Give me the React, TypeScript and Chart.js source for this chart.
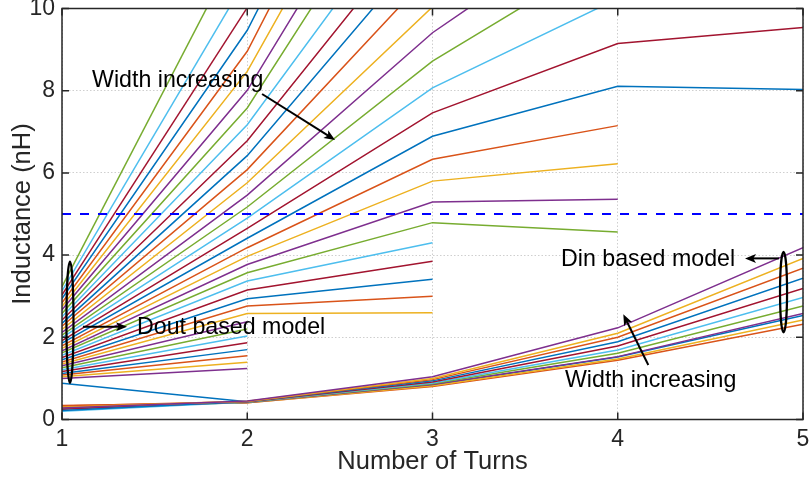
import React, { useEffect, useRef } from "react";
import { Chart, registerables } from "chart.js";

Chart.register(...registerables);

// ---------- data ----------
const turns = [1, 2, 3, 4, 5];
const xTicks = [1, 2, 3, 4, 5];
const yTicks = [0, 2, 4, 6, 8, 10];
const threshold = 5;

// Din based model: 11 widths (narrow -> wide), inductance (nH) at N = 1..5
const dinN1 = [0.88, 0.34, 0.31, 0.29, 0.27, 0.2, 0.25, 0.22, 0.33, 0.3, 0.28];
const dinN2 = [0.43, 0.405, 0.41, 0.415, 0.42, 0.425, 0.43, 0.435, 0.44, 0.445, 0.45];
const dinN3 = [0.84, 0.8, 0.82, 0.85, 0.87, 0.89, 0.91, 0.94, 0.97, 1.0, 1.04];
const dinN4 = [1.52, 1.44, 1.47, 1.53, 1.61, 1.69, 1.79, 1.89, 2.0, 2.1, 2.23];
const dinN5 = [2.53, 2.32, 2.42, 2.58, 2.76, 2.97, 3.19, 3.44, 3.68, 3.92, 4.18];

// Dout based model: 35 widths (narrow -> wide), inductance (nH) at N = 1..5
const doutN1 = [3.23, 3.13, 3.03, 2.94, 2.84, 2.75, 2.67, 2.58, 2.5, 2.42, 2.34, 2.27, 2.19, 2.12, 2.05, 1.99, 1.92, 1.86, 1.79, 1.73, 1.67, 1.62, 1.56, 1.51, 1.45, 1.4, 1.35, 1.31, 1.26, 1.21, 1.17, 1.12, 1.08, 1.04, 1.0];
const doutN2 = [11.91, 10.76, 10.02, 9.47, 8.96, 8.47, 8.01, 7.58, 7.17, 6.78, 6.42, 6.08, 5.76, 5.46, 5.17, 4.9, 4.65, 4.41, 4.18, 3.97, 3.77, 3.57, 3.37, 3.15, 2.94, 2.76, 2.58, 2.38, 2.2, 2.03, 1.87, 1.7, 1.55, 1.39, 1.24];
const doutN3 = [null, null, null, 18.3, 17.7, 16.5, 15.4, 14.6, 13.3, 12.4, 11.7, 10.9, 10.04, 9.41, 8.72, 8.07, 7.46, 6.89, 6.33, 5.8, 5.29, 4.79, 4.3, 3.85, 3.41, 3.0, 2.6, null, null, null, null, null, null, null, null];
const doutN4 = [null, null, null, null, null, null, null, null, null, null, null, null, null, 12.5, 11.44, 10.24, 9.15, 8.11, 7.15, 6.22, 5.36, 4.56, null, null, null, null, null, null, null, null, null, null, null, null, null];
const doutN5 = [null, null, null, null, null, null, null, null, null, null, null, null, null, null, null, null, 9.54, 8.03, null, null, null, null, null, null, null, null, null, null, null, null, null, null, null, null, null];

// ---------- annotations (data coordinates) ----------
const noteTexts = ["Width increasing", "Dout based model", "Din based model", "Width increasing"];
const noteAnchors = [
  [1.162, 8.08],
  [1.405, 2.08],
  [3.694, 3.74],
  [3.715, 0.8],
];
const arrows = [
  [2.08, 7.92, 2.474, 6.8],
  [1.113, 2.258, 1.351, 2.258],
  [4.87, 3.92, 4.687, 3.92],
  [4.165, 1.327, 4.03, 2.56],
];
const ellipses = [
  [1.043, 2.365, 0.019, 1.477],
  [4.895, 3.1, 0.019, 0.98],
];

// ---------- styles ----------
const FONT = '"Liberation Sans", Arial, Helvetica, sans-serif';
const palette = ["#0072BD", "#D95319", "#EDB120", "#7E2F8E", "#77AC30", "#4DBEEE", "#A2142F"];
const axisColor = "#262626";

function series(cols: (number | null)[][], i: number) {
  return turns
    .map((t, n) => ({ x: t, y: cols[n][i] }))
    .filter((p) => p.y !== null && p.y !== undefined);
}

function buildDatasets() {
  const ds: any[] = [];
  const dinCols = [dinN1, dinN2, dinN3, dinN4, dinN5];
  const doutCols = [doutN1, doutN2, doutN3, doutN4, doutN5];
  let s = 0;
  for (let i = 0; i < dinN1.length; i++, s++) {
    ds.push({
      data: series(dinCols, i),
      borderColor: palette[s % 7],
      borderWidth: 1.5,
      order: -s,
    });
  }
  for (let i = 0; i < doutN1.length; i++, s++) {
    ds.push({
      data: series(doutCols, i),
      borderColor: palette[s % 7],
      borderWidth: 1.5,
      order: -s,
    });
  }
  ds.push({
    data: [
      { x: turns[0], y: threshold },
      { x: turns[turns.length - 1], y: threshold },
    ],
    borderColor: "#0000FF",
    borderWidth: 2.2,
    borderDash: [9, 9],
    order: -1000,
  });
  return ds;
}

const overlay = {
  id: "overlay",
  afterDatasetsDraw(chart: any) {
    const { ctx, chartArea: a, scales } = chart;
    const x = scales.x;
    const y = scales.y;
    const px = (v: number) => x.getPixelForValue(v);
    const py = (v: number) => y.getPixelForValue(v);
    ctx.save();
    // box
    ctx.strokeStyle = axisColor;
    ctx.lineWidth = 1.5;
    ctx.setLineDash([]);
    ctx.strokeRect(a.left, a.top, a.right - a.left, a.bottom - a.top);
    // inward ticks
    const tl = 7;
    ctx.beginPath();
    xTicks.forEach((v) => {
      const p = px(v);
      ctx.moveTo(p, a.bottom);
      ctx.lineTo(p, a.bottom - tl);
      ctx.moveTo(p, a.top);
      ctx.lineTo(p, a.top + tl);
    });
    yTicks.forEach((v) => {
      const p = py(v);
      ctx.moveTo(a.left, p);
      ctx.lineTo(a.left + tl, p);
      ctx.moveTo(a.right, p);
      ctx.lineTo(a.right - tl, p);
    });
    ctx.stroke();

    // ellipses
    ctx.strokeStyle = "#000";
    ctx.lineWidth = 2.2;
    ellipses.forEach(([cx, cy, rx, ry]) => {
      const cxp = px(cx);
      const cyp = py(cy);
      const rxp = Math.abs(px(cx + rx) - cxp);
      const ryp = Math.abs(py(cy + ry) - cyp);
      ctx.beginPath();
      ctx.ellipse(cxp, cyp, rxp, ryp, 0, 0, Math.PI * 2);
      ctx.stroke();
    });

    // arrows
    ctx.fillStyle = "#000";
    ctx.lineWidth = 2;
    arrows.forEach(([x0, y0, x1, y1]) => {
      const ax = px(x0), ay = py(y0), bx = px(x1), by = py(y1);
      const dx = bx - ax, dy = by - ay;
      const len = Math.hypot(dx, dy);
      const ux = dx / len, uy = dy / len;
      const nx = -uy, ny = ux;
      const L = 11, W = 4.5;
      ctx.beginPath();
      ctx.moveTo(ax, ay);
      ctx.lineTo(bx - ux * L * 0.7, by - uy * L * 0.7);
      ctx.stroke();
      ctx.beginPath();
      ctx.moveTo(bx, by);
      ctx.lineTo(bx - ux * L + nx * W, by - uy * L + ny * W);
      ctx.lineTo(bx - ux * L * 0.75, by - uy * L * 0.75);
      ctx.lineTo(bx - ux * L - nx * W, by - uy * L - ny * W);
      ctx.closePath();
      ctx.fill();
    });

    // texts
    ctx.font = `23.2px ${FONT}`;
    ctx.textAlign = "left";
    ctx.textBaseline = "alphabetic";
    ctx.fillStyle = "#000";
    noteTexts.forEach((t, i) => {
      ctx.fillText(t, px(noteAnchors[i][0]), py(noteAnchors[i][1]));
    });
    ctx.restore();
  },
};

export default function App() {
  const ref = useRef<HTMLCanvasElement>(null);
  useEffect(() => {
    document.body.style.margin = "0";
    const chart = new Chart(ref.current as HTMLCanvasElement, {
      type: "line",
      data: { datasets: buildDatasets() },
      options: {
        animation: false,
        responsive: false,
        devicePixelRatio: 1,
        parsing: false as any,
        normalized: true,
        layout: { padding: { top: 8.5, right: 6, left: 0, bottom: 0 } },
        elements: {
          point: { radius: 0, hoverRadius: 0 },
          line: { tension: 0, fill: false },
        },
        datasets: { line: { clip: 0 as any, spanGaps: false } },
        plugins: {
          legend: { display: false },
          tooltip: { enabled: false },
        },
        events: [],
        scales: {
          x: {
            type: "linear",
            min: 1,
            max: 5,
            afterBuildTicks: (s: any) => {
              s.ticks = xTicks.map((v) => ({ value: v }));
            },
            afterFit: (s: any) => {
              s.height = 59.5;
              s.paddingLeft = 0;
              s.paddingRight = 0;
            },
            ticks: {
              font: { family: FONT, size: 23 },
              color: axisColor,
              padding: 6,
              maxRotation: 0,
              autoSkip: false,
            },
            grid: { color: "#cfcfcf", lineWidth: 1, drawTicks: false },
            border: { display: false, dash: [1.5, 2] },
            title: {
              display: true,
              text: "Number of Turns",
              font: { family: FONT, size: 25.5 },
              color: axisColor,
              padding: { top: 0, bottom: 1.7 },
            },
          },
          y: {
            type: "linear",
            min: 0,
            max: 10,
            afterBuildTicks: (s: any) => {
              s.ticks = yTicks.map((v) => ({ value: v }));
            },
            afterFit: (s: any) => {
              s.width = 62;
              s.paddingTop = 0;
              s.paddingBottom = 0;
            },
            ticks: {
              font: { family: FONT, size: 23 },
              color: axisColor,
              padding: 7,
              autoSkip: false,
            },
            grid: { color: "#cfcfcf", lineWidth: 1, drawTicks: false },
            border: { display: false, dash: [1.5, 2] },
            title: {
              display: true,
              text: "Inductance (nH)",
              font: { family: FONT, size: 25.5 },
              color: axisColor,
              padding: { top: 7.7, bottom: 0 },
            },
          },
        },
      },
      plugins: [overlay],
    } as any);
    return () => chart.destroy();
  }, []);
  return (
    <div style={{ width: 809, height: 479 }}>
      <canvas ref={ref} width={809} height={479} style={{ display: "block" }} />
    </div>
  );
}
